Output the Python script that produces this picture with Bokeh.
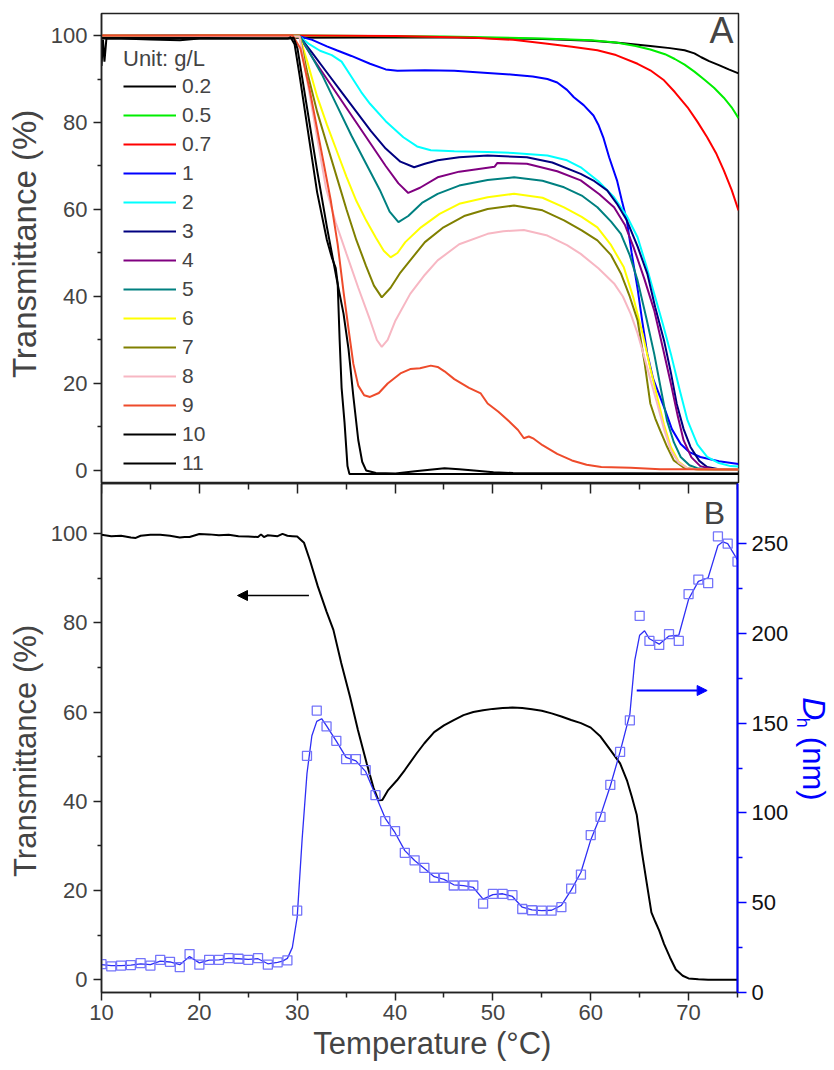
from bokeh.plotting import figure
from bokeh.layouts import column, row
from bokeh.models import (Range1d, LinearAxis, FixedTicker, Legend, LegendItem,
                          Label, Arrow, NormalHead)
from bokeh.core.properties import value
from bokeh.embed import file_html
from bokeh.resources import INLINE
import math

FONT = "Liberation Sans"
NB = "\u00a0"

# ---------------- Panel A data (temperature °C, transmittance %) ----------------
labels_A = ["0.2", "0.5", "0.7", "1", "2", "3", "4", "5", "6", "7", "8", "9", "10", "11"]
colors_A = ["#000000", "#00EE00", "#FF0000", "#0000FF", "#00FFFF", "#000080", "#800080",
            "#008080", "#FFFF00", "#808000", "#F7B7C3", "#EE4B2B", "#000000", "#000000"]

t_02 = [10, 30, 45, 55, 60, 63, 66, 68, 69.5, 70.5, 71.2, 72, 73, 74, 75]
v_02 = [99.5, 99.5, 99.6, 99.2, 98.8, 98.3, 97.6, 97.1, 96.6, 95.9, 95.0, 94.1, 93.2, 92.2, 91.3]

t_05 = [10, 30, 45, 55, 60, 62.5, 64.5, 66, 67.5, 68.5, 69.5, 70.5, 71.5, 72.5, 73.5, 74.3, 75]
v_05 = [100, 100, 99.8, 99.3, 98.9, 98.4, 97.6, 96.8, 95.7, 94.6, 93.3, 91.7, 89.9, 88.0, 85.7, 83.5, 81.0]

t_07 = [10, 30, 40, 48, 52, 55.5, 58, 60.6, 62.5, 64.7, 66, 67.4, 68.5, 69.8, 70.8, 71.8, 72.7, 73.5, 74.3, 75]
v_07 = [100, 100, 99.9, 99.5, 99.0, 98.1, 97.4, 96.6, 95.5, 93.5, 92.0, 89.7, 87.0, 83.5, 80.2, 76.6, 73.0, 69.0, 64.5, 59.8]

t_1 = [10, 30.2, 31.5, 33, 34, 35.5, 37.4, 39, 40.2, 43, 46, 49.4, 52, 54, 55.5, 56.5, 57.5, 58.2,
       59.2, 60.2, 60.7, 61.2, 61.8, 62.6, 63.1, 63.6, 64.1, 64.7, 65.2, 65.7, 66.3, 67.0, 67.5,
       68.2, 69.1, 70, 71.1, 73, 75]
v_1 = [100, 99.8, 99.0, 97.5, 96.6, 95.3, 93.5, 92.2, 91.9, 92.0, 91.9, 91.4, 91.0, 90.6, 90.0, 89.2,
       87.5, 85.8, 84.0, 81.6, 79.5, 76.6, 72.0, 66.7, 62.0, 57.5, 50.0, 41.8, 34.0, 26.8, 21.0, 16.9,
       14.0, 9.5, 6.1, 4.2, 3.1, 2.1, 1.5]

t_2 = [10, 30.2, 31.2, 32.3, 33.5, 34.5, 35.5, 36.5, 37.4, 39, 40.8, 42.2, 43.6, 46, 49.4, 52, 55.5,
       57.5, 58.9, 60.7, 62.3, 63.6, 64.7, 65.6, 66.4, 67.3, 68.1, 69, 69.8, 70.8, 71.8, 73, 74.2, 75]
v_2 = [100, 99.8, 98.0, 96.5, 95.5, 94.0, 90.5, 87.0, 84.3, 80.3, 76.6, 74.5, 73.6, 73.4, 73.2, 73.0,
       72.4, 71.3, 69.7, 66.5, 62.8, 58.5, 53.6, 47.0, 40.6, 33.5, 26.8, 18.5, 11.5, 6.0, 3.1, 1.7, 1.0, 0.9]

t_3 = [10, 30.2, 31.5, 33, 34.5, 36, 37.5, 39, 40.5, 41.9, 43, 44.3, 46.5, 49.4, 53.4, 56, 58.9,
       60.3, 61.6, 62.6, 63.6, 64.7, 65.7, 66.5, 67.4, 68.1, 68.7, 69.4, 70.1, 71, 71.8, 73, 75]
v_3 = [100, 99.8, 96.0, 91.5, 87.0, 82.5, 78.0, 74.0, 71.0, 69.7, 70.5, 71.3, 72.0, 72.4, 72.0, 70.8,
       68.2, 66.5, 64.4, 61.3, 57.5, 51.5, 45.2, 37.5, 29.9, 22.5, 15.3, 9.5, 5.4, 2.2, 0.8, 0.3, 0.2]

t_4 = [10, 30.2, 31.5, 33, 34.5, 36, 37.5, 39, 40.3, 41.3, 42.5, 44.3, 46.5, 49.4, 50.1, 50.4, 53.4,
       56.5, 58.9, 60.8, 62.3, 63.4, 64.3, 65.4, 66.4, 67.3, 68.1, 68.8, 69.4, 70.2, 71.1, 72.5, 75]
v_4 = [100, 99.8, 95.0, 90.0, 85.0, 80.0, 75.0, 70.0, 66.0, 63.8, 65.0, 67.4, 68.7, 69.6, 69.8, 70.7,
       70.5, 68.8, 66.7, 63.5, 60.5, 56.5, 51.3, 44.0, 36.8, 28.0, 20.0, 12.5, 6.9, 3.0, 1.0, 0.2, 0.2]

t_5 = [10, 30.2, 31, 32.5, 34, 35.5, 37, 38.4, 39.4, 40.3, 41.3, 42.7, 44.3, 46.5, 49.4, 52.1, 55,
       57.2, 59, 60.6, 62, 63, 63.9, 64.7, 65.6, 66.4, 67.1, 67.7, 68.4, 69.1, 70, 70.8, 72, 75]
v_5 = [100, 99.8, 97.0, 91.0, 84.0, 77.0, 70.5, 64.5, 59.5, 57.1, 58.5, 61.5, 63.6, 65.5, 66.8, 67.4,
       66.6, 65.1, 63.2, 60.5, 57.2, 54.4, 49.5, 43.7, 35.0, 26.8, 18.5, 11.5, 6.5, 3.1, 1.2, 0.5, 0.2, 0.2]

t_6 = [10, 30.2, 31, 32, 33, 34, 35, 36, 37, 38, 38.8, 39.5, 40.2, 41, 42.6, 44.5, 46.5, 49.4, 52.1,
       55, 57.2, 59, 60.6, 62, 63.3, 64.3, 65.3, 66, 66.7, 67.4, 68.1, 68.9, 69.8, 71, 75]
v_6 = [100, 99.8, 94.0, 86.0, 79.5, 73.5, 67.5, 62.0, 57.5, 53.5, 50.5, 49.0, 50.0, 52.5, 55.9, 59.0,
       61.3, 62.8, 63.6, 62.7, 60.5, 58.3, 55.9, 51.8, 46.7, 39.5, 30.6, 23.5, 16.9, 10.5, 5.4, 2.0, 0.5, 0.2, 0.2]

t_7 = [10, 30.2, 31, 32, 33, 34, 35, 36, 37, 37.8, 38.6, 39.5, 40.5, 41.5, 43, 44.9, 47, 49.4, 52.1,
       55, 57.2, 59, 60.6, 62, 63, 63.9, 64.7, 65.4, 66, 66.5, 67, 67.7, 68.4, 69.5, 71, 75]
v_7 = [100, 99.8, 91.5, 82.5, 75.0, 67.5, 60.0, 53.0, 47.0, 42.5, 39.8, 42.0, 45.5, 48.3, 52.5, 55.9,
       58.5, 60.1, 60.9, 59.8, 57.5, 55.2, 52.9, 49.5, 45.3, 40.0, 34.5, 25.0, 15.4, 12.0, 9.2, 5.5, 2.3, 0.5, 0.2, 0.2]

t_8 = [10, 30.2, 30.8, 31.5, 32.2, 32.9, 33.9, 35, 36.2, 37.4, 38.1, 38.6, 39.2, 40, 41.5, 43, 44.3,
       46.5, 49.4, 51, 53.1, 55.5, 57.5, 58.9, 60.7, 62.3, 63.2, 64, 64.7, 65.3, 66, 66.7, 67.4, 68.1,
       68.9, 69.8, 71, 75]
v_8 = [100, 99.8, 92.0, 83.0, 74.0, 65.0, 57.0, 49.8, 42.0, 34.6, 30.0, 28.4, 30.0, 34.5, 40.6, 45.0,
       48.3, 52.0, 54.4, 55.0, 55.3, 54.0, 51.8, 49.8, 46.5, 43.0, 40.0, 36.0, 31.5, 26.8, 21.0, 15.4,
       9.5, 4.6, 1.8, 0.5, 0.2, 0.2]

t_9 = [10, 29.5, 30.3, 31.2, 32.3, 33.4, 34.1, 34.7, 35.3, 35.7, 36.2, 36.8, 37.4, 38.3, 39.2, 40.5,
       41.5, 42.5, 43.6, 44.3, 45, 46, 47.5, 48.7, 49.4, 50.5, 51.5, 52.5, 53.1, 53.6, 54.1, 55, 56.5,
       58, 59.5, 61, 64, 67, 70, 75]
v_9 = [100, 100, 97.0, 88.0, 75.0, 62.0, 52.0, 41.0, 31.0, 24.5, 19.5, 17.3, 16.9, 17.8, 20.0, 22.3,
       23.3, 23.5, 24.1, 23.8, 22.8, 21.0, 19.0, 17.7, 15.4, 13.5, 11.5, 9.3, 7.4, 7.8, 7.3, 5.8, 3.8,
       2.3, 1.3, 0.8, 0.6, 0.3, 0.3, 0.2]

t_10 = [10.0, 10.15, 10.3, 10.5, 12, 15, 18, 20, 25, 29.2, 29.6, 30, 31, 32, 33, 34, 34.7, 35.2, 35.7,
        36.2, 36.6, 37, 38, 40, 42, 44, 45, 46.5, 48, 50, 52, 75]
v_10 = [93.0, 99.0, 94.0, 99.3, 99.3, 99.1, 98.9, 99.3, 99.3, 99.3, 99.5, 97.0, 83.0, 69.0, 56.0, 44.0,
        36.0, 28.0, 17.0, 7.0, 2.0, 0.0, -0.6, -0.7, -0.2, 0.3, 0.5, 0.3, 0.0, -0.4, -0.6, -0.7]

t_11 = [10, 29.0, 29.3, 29.7, 30.2, 31, 32, 33, 33.5, 33.9, 34.1, 34.3, 34.5, 34.8, 35.1, 35.3, 75]
v_11 = [99.3, 99.3, 99.6, 98.0, 91.0, 79.0, 64.0, 53.0, 49.0, 46.5, 43.0, 30.0, 19.0, 11.0, 1.0, -0.8, -0.8]

series_t = [t_02, t_05, t_07, t_1, t_2, t_3, t_4, t_5, t_6, t_7, t_8, t_9, t_10, t_11]
series_v = [v_02, v_05, v_07, v_1, v_2, v_3, v_4, v_5, v_6, v_7, v_8, v_9, v_10, v_11]

# ---------------- Panel B data ----------------
tB = [10, 11, 12, 13, 13.5, 14, 15, 16, 17, 18, 18.5, 19, 20, 21, 22, 23, 24, 25, 26, 26.3, 26.6, 27,
      28, 28.5, 29, 29.5, 30, 30.7, 31.3, 32.1, 33, 33.7, 34.5, 35.4, 36.2, 37.1, 37.8, 38.3, 38.7,
      39.3, 40.2, 41, 42.2, 43, 44, 45, 46, 47, 48, 49, 50, 51, 52, 53, 54, 55, 56, 57, 58, 59, 60,
      61, 62, 63, 63.7, 64.2, 64.7, 65.2, 65.7, 66.2, 66.6, 67.0, 67.5, 68.1, 68.7, 69.4, 70, 71, 72, 75]
vB = [99.7, 99.4, 99.5, 99.1, 99.0, 99.5, 99.7, 99.7, 99.5, 99.1, 99.2, 99.2, 99.9, 99.8, 99.6, 99.7,
      99.4, 99.3, 99.2, 99.8, 99.2, 99.6, 99.4, 99.9, 99.5, 99.4, 99.3, 97.9, 94.0, 88.2, 82.5, 78.4,
      71.0, 63.4, 56.0, 48.5, 43.0, 40.2, 40.3, 42.5, 44.7, 47.0, 50.7, 53.0, 55.5, 57.0, 58.2, 59.3,
      60.0, 60.4, 60.7, 60.9, 61.0, 60.9, 60.6, 60.3, 59.7, 59.0, 58.2, 57.5, 56.5, 54.5, 51.5, 48.5,
      44.7, 41.0, 37.0, 29.0, 22.0, 15.1, 13.0, 11.0, 8.0, 5.0, 2.3, 0.9, 0.3, 0.1, 0.0, 0.0]

dh_T = list(range(10, 76))
dh_nm = [15.8, 14.5, 15.0, 15.3, 16.4, 15.0, 18.2, 17.1, 14.1, 21.4, 15.5, 18.2, 18.2, 19.2, 18.8,
         18.2, 19.2, 15.5, 16.8, 17.9, 45.6, 131.8, 157.0, 148.2, 140.2, 130.0, 130.0, 123.9, 109.9,
         95.5, 89.9, 77.8, 73.6, 69.4, 63.9, 63.9, 59.6, 59.6, 59.6, 49.5, 54.9, 54.9, 54.2, 46.5,
         45.8, 45.6, 45.6, 47.5, 57.9, 65.7, 87.7, 97.8, 115.6, 134.0, 151.6, 209.8, 195.8, 193.6,
         199.6, 195.8, 221.9, 230.0, 228.0, 254.0, 250.0, 240.0]

dh_line_T = [10, 11, 12, 13, 14, 15, 16, 17, 18, 19, 20, 21, 22, 23, 24, 25, 26, 27, 28, 28.5, 29,
             29.5, 30, 30.5, 31, 31.5, 32, 32.5, 33, 34, 35, 36, 37, 38, 39, 40, 41, 42, 43, 44, 45,
             46, 47, 48, 49, 50, 51, 52, 53, 54, 55, 56, 57, 58, 59, 60, 61, 62, 63, 64, 64.5, 65,
             65.5, 66, 67, 68, 69, 70, 71, 72, 72.5, 73, 73.5, 74, 75]
dh_line_nm = [15.5, 15.0, 15.0, 15.3, 16.0, 15.5, 17.5, 17.0, 15.5, 20.0, 16.5, 18.0, 18.2, 19.0,
              18.8, 18.5, 18.8, 16.0, 16.8, 17.5, 19.0, 25.0, 42.0, 85.0, 122.0, 143.0, 151.0,
              152.5, 148.5, 140.0, 131.0, 129.0, 123.0, 110.0, 97.0, 89.0, 79.0, 73.5, 69.0, 64.5,
              63.0, 60.0, 59.5, 58.5, 52.0, 54.5, 55.0, 53.5, 47.5, 46.0, 45.6, 45.8, 48.5, 57.0,
              67.0, 85.0, 98.5, 115.0, 134.0, 155.0, 185.0, 199.0, 201.5, 197.0, 194.0, 198.5,
              199.0, 219.0, 229.0, 231.0, 240.0, 249.0, 251.0, 250.0, 241.0]

x_ticks = [10, 20, 30, 40, 50, 60, 70]
x_minor = [15, 25, 35, 45, 55, 65, 75]
y_ticks = [0, 20, 40, 60, 80, 100]
y_minor = [10, 30, 50, 70, 90]
dh_ticks = [0, 50, 100, 150, 200, 250]
dh_minor = [25, 75, 125, 175, 225]


def style_yaxis(ax, label, label_size):
    ax.ticker = FixedTicker(ticks=y_ticks, minor_ticks=y_minor)
    ax.axis_label = label
    ax.axis_label_text_font = FONT
    ax.axis_label_text_font_size = label_size
    ax.axis_label_text_font_style = "normal"
    ax.axis_label_standoff = 5
    ax.major_label_text_font = FONT
    ax.major_label_text_font_size = "22px"
    ax.major_label_standoff = 6
    ax.major_tick_out = 8
    ax.major_tick_in = 0
    ax.minor_tick_out = 4
    ax.minor_tick_in = 0
    ax.axis_line_width = 1.5
    ax.major_tick_line_width = 1.5
    ax.minor_tick_line_width = 1.5
    ax.axis_line_color = "#222222"
    ax.major_tick_line_color = "#222222"
    ax.minor_tick_line_color = "#222222"


BL = 101            # frame left edge (page has no margin in Bokeh's template)
FRAME_W = 637
A_TOP, A_FRAME = 13, 470
B_FRAME, B_BOTTOM = 509, 76
B_H = B_FRAME + B_BOTTOM
B_RIGHT = 53
STRIP_W = 834 - (BL + FRAME_W + B_RIGHT)

# ---------------- Figure A ----------------
pA = figure(width=BL + FRAME_W + 92, height=A_TOP + A_FRAME, x_range=Range1d(10, 75),
            y_range=Range1d(-3, 105.06),
            output_backend="svg", toolbar_location=None, x_axis_location=None, title=None,
            min_border_left=BL, min_border_right=92, min_border_top=A_TOP, min_border_bottom=0)
pA.grid.visible = False
pA.outline_line_color = "#222222"
pA.outline_line_width = 1.5
pA.outline_line_alpha = 1.0
style_yaxis(pA.yaxis[0], NB + "Transmittance (%)", "33px")

items = []
for lab, col, tt, vv in zip(labels_A, colors_A, series_t, series_v):
    r = pA.line(tt, vv, line_color=col, line_width=2)
    items.append(LegendItem(label=lab, renderers=[r]))

leg = Legend(items=items, location=(22, 6), title="Unit: g/L",
             title_text_font=FONT, title_text_font_size="22px", title_text_font_style="normal",
             title_standoff=0, label_text_font=FONT, label_text_font_size="21px",
             glyph_width=53, glyph_height=28, label_height=28, spacing=1, label_standoff=6,
             padding=0, margin=0, border_line_color=None, background_fill_alpha=0)
pA.add_layout(leg)

pA.add_layout(Label(x=73.27, y=101.1, text="A", text_font=FONT, text_font_size="36px",
                    text_align="center", text_baseline="middle"))

# ---------------- Figure B ----------------
pB = figure(width=BL + FRAME_W + B_RIGHT, height=B_H, x_range=pA.x_range, y_range=Range1d(-2.85, 111.2),
            output_backend="svg", toolbar_location=None, title=None,
            min_border_left=BL, min_border_right=B_RIGHT, min_border_top=0, min_border_bottom=B_BOTTOM)
pB.grid.visible = False
pB.outline_line_color = "#222222"
pB.outline_line_width = 1.5
pB.outline_line_alpha = 1.0
pB.extra_y_ranges = {"dh": Range1d(0, 283.5)}
style_yaxis(pB.yaxis[0], "Transmittance (%)" + NB * 3, "31px")

xa = pB.xaxis[0]
xa.ticker = FixedTicker(ticks=x_ticks, minor_ticks=x_minor)
xa.axis_label = NB * 3 + "Temperature (°C)"
xa.axis_label_text_font = FONT
xa.axis_label_text_font_size = "31px"
xa.axis_label_text_font_style = "normal"
xa.axis_label_standoff = 3
xa.major_label_text_font = FONT
xa.major_label_text_font_size = "22px"
xa.major_label_standoff = 4
xa.major_tick_out = 8
xa.major_tick_in = 0
xa.minor_tick_out = 5
xa.minor_tick_in = 0
for attr in ("axis_line", "major_tick_line", "minor_tick_line"):
    setattr(xa, attr + "_width", 1.5)
    setattr(xa, attr + "_color", "#222222")

# top ticks pointing inward (shared boundary between panels)
top_ax = LinearAxis(fixed_location=111.2,
                    ticker=FixedTicker(ticks=x_ticks, minor_ticks=x_minor),
                    major_label_overrides={t: "" for t in x_ticks},
                    major_tick_in=10, major_tick_out=0, minor_tick_in=6, minor_tick_out=0,
                    major_label_text_font_size="0px", major_label_standoff=0,
                    axis_line_color="#222222", axis_line_width=1.5,
                    major_tick_line_width=1.5, minor_tick_line_width=1.5,
                    major_tick_line_color="#222222", minor_tick_line_color="#222222")
pB.add_layout(top_ax, "above")

rax = LinearAxis(y_range_name="dh", ticker=FixedTicker(ticks=dh_ticks, minor_ticks=dh_minor),
                 axis_line_color="#0000FF", axis_line_width=2,
                 major_tick_line_color="#0000FF", minor_tick_line_color="#0000FF",
                 major_tick_line_width=1.5, minor_tick_line_width=1.5,
                 major_tick_out=9, major_tick_in=0, minor_tick_out=5, minor_tick_in=0,
                 major_label_text_font=FONT, major_label_text_font_size="22px",
                 major_label_text_color="#111111", major_label_standoff=5)
pB.add_layout(rax, "right")

pB.line(tB, vB, line_color="#000000", line_width=2)
pB.line(dh_line_T, dh_line_nm, line_color="#2E2EF5", line_width=1.3, y_range_name="dh")
pB.scatter(dh_T, dh_nm, marker="square", size=9, fill_color=None, line_color="#7474FA",
           line_width=1.3, y_range_name="dh")

pB.add_layout(Arrow(end=NormalHead(size=10, fill_color="black", line_color="black"),
                    x_start=31.2, y_start=86.1, x_end=23.9, y_end=86.1,
                    line_color="black", line_width=1.5))
pB.add_layout(Arrow(end=NormalHead(size=10, fill_color="#0000FF", line_color="#0000FF"),
                    x_start=64.7, y_start=168.2, x_end=71.9, y_end=168.2, y_range_name="dh",
                    line_color="#0000FF", line_width=1.8))

pB.add_layout(Label(x=72.65, y=104.7, text="B", text_font=FONT, text_font_size="32px",
                    text_align="center", text_baseline="middle"))

# ---------------- strip to the right of B holding the right-axis title D_h (nm) ----------------
pL = figure(width=STRIP_W, height=B_H, x_range=Range1d(0, STRIP_W), y_range=pB.y_range,
            output_backend="svg", toolbar_location=None, title=None,
            x_axis_location=None, y_axis_location=None,
            min_border_left=0, min_border_right=0, min_border_top=0, min_border_bottom=B_BOTTOM)
pL.grid.visible = False
pL.outline_line_color = None
pL.text(x=[22], y=[60.7], text=["D"], angle=-math.pi / 2, text_font=value(FONT),
        text_font_size="32px", text_font_style="italic", text_color="#0000FF",
        text_align="center", text_baseline="middle")
pL.text(x=[11.5], y=[57.6], text=["h"], angle=-math.pi / 2, text_font=value(FONT),
        text_font_size="18px", text_color="#0000FF",
        text_align="center", text_baseline="middle")
pL.text(x=[22], y=[47.3], text=["(nm)"], angle=-math.pi / 2, text_font=value(FONT),
        text_font_size="31px", text_color="#0000FF",
        text_align="center", text_baseline="middle")

layout = column(pA, row(pB, pL, spacing=0), spacing=0)
open("out.html", "w").write(file_html(layout, INLINE))
